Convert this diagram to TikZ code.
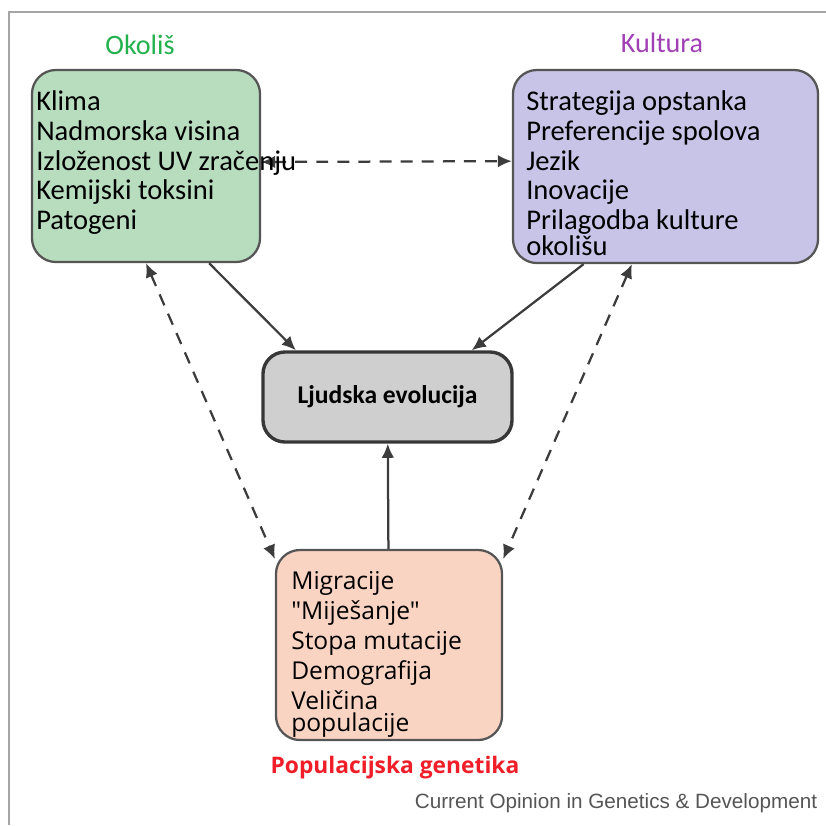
\documentclass[tikz,border=0pt]{standalone}
\usepackage{fontspec}
\setmainfont{Carlito}
\newfontfamily\opensans{Open Sans}
\newfontfamily\arialfont{Liberation Sans}
\usepackage{tikz}
\usetikzlibrary{calc, arrows.meta}

\definecolor{zelena}{RGB}{183,221,190}
\definecolor{ljubicasta}{RGB}{200,196,232}
\definecolor{siva}{RGB}{207,207,207}
\definecolor{breskva}{RGB}{250,212,195}
\definecolor{rub}{RGB}{85,85,85}
\definecolor{tamna}{RGB}{55,55,55}
\definecolor{strelica}{RGB}{60,60,60}
\definecolor{okvir}{RGB}{165,165,165}
\definecolor{okolisboja}{RGB}{34,177,76}
\definecolor{kulturaboja}{RGB}{160,64,180}
\definecolor{crvena}{RGB}{240,30,40}
\definecolor{izvor}{RGB}{85,85,85}

\begin{document}
\begin{tikzpicture}[
          box/.style={draw=rub, line width=1.6pt, rounded corners=0.6cm, inner sep=0pt},
          txt/.style={align=left, inner sep=0pt, anchor=north west,
            font=\fontsize{20.3}{21.3}\selectfont},
          ed/.style={line width=1.6pt, strelica},
          crt/.style={ed, dash pattern=on 8.5pt off 6.5pt},
          >={Latex[length=10pt, width=9pt]},
          x=0.025cm,
          y=-0.025cm,
        ]
      \useasboundingbox (0, 0) rectangle (826, 825);
      \draw[okvir, line width=1.4pt] (9, 825) -- (9, 12) -- (826, 12);
      % boxes
      \node[box, fill=zelena, minimum width=5.7cm, minimum height=4.8cm] (okolis) at (146, 166) {};
      \node[box, fill=ljubicasta, minimum width=7.625cm, minimum height=4.825cm] (kultura) at (665.5, 166.5) {};
      \node[box, fill=siva, draw=tamna, line width=2.4pt, rounded corners=0.55cm,
            minimum width=6.225cm, minimum height=2.25cm,
            font=\bfseries\fontsize{18.2}{20}\selectfont] (evolucija) at (387.5, 397) {Ljudska evolucija};
      \node[box, fill=breskva, minimum width=5.65cm, minimum height=4.75cm] (genetika) at (389, 645) {};
      % connectors
      \draw[ed, ->] (okolis.-57) -- (evolucija.153);
      \draw[ed, ->] (kultura.-130) -- (evolucija.29);
      \draw[ed, ->] (genetika) -- (evolucija);
      \draw[crt, <->] (okolis.2) -- (kultura.178);
      \draw[crt, <->] (okolis.south) -- (genetika.143);
      \draw[crt, <->] (kultura.-109) -- (genetika.37);
      % texts
      \node[txt] (okolisTekst) at (36, 90) {Klima\\Nadmorska visina\\Izloženost UV zračenju\\Kemijski toksini\\Patogeni};
      \node[txt] (kulturaTekst) at (526, 90) {Strategija opstanka\\Preferencije spolova\\Jezik\\Inovacije\\Prilagodba kulture\\[-3pt]okolišu};
      \node[txt, font=\opensans\fontsize{17.5}{21.3}\selectfont] (genetikaTekst) at (291, 571)
            {Migracije\\"Miješanje"\\Stopa mutacije\\Demografija\\Veličina\\[-5.5pt]populacije};
      \node[font=\fontsize{20}{24}\selectfont, text=okolisboja] (okolisNaslov) at (140, 45) {Okoliš};
      \node[font=\fontsize{20}{24}\selectfont, text=kulturaboja] (kulturaNaslov) at (662, 43) {Kultura};
      \node[font=\opensans\bfseries\fontsize{16.2}{20}\selectfont, text=crvena] (genetikaNaslov) at (395, 768) {Populacijska genetika};
      \node[font=\arialfont\fontsize{14.7}{17}\selectfont, text=izvor] (izvorTekst) at (616, 803) {Current Opinion in Genetics \& Development};
    \end{tikzpicture}
\end{document}
